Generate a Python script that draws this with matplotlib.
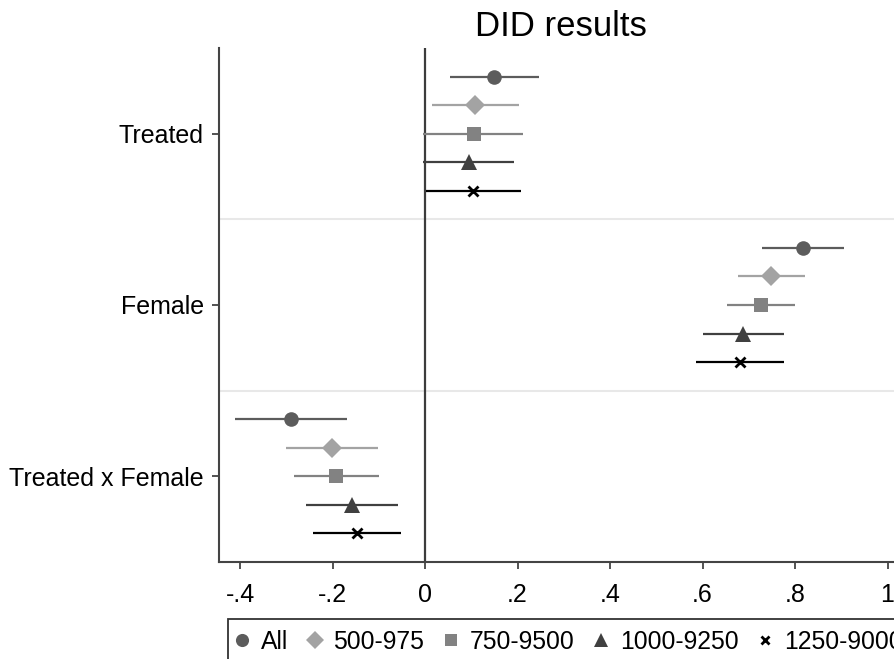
import matplotlib
matplotlib.use("Agg")
import matplotlib.pyplot as plt
from matplotlib.patches import Rectangle
import numpy as np

plt.rcParams['font.family'] = ['Liberation Sans', 'DejaVu Sans']

# coefficient labels (top to bottom) and sample windows
terms = ["Treated", "Female", "Treated x Female"]
samples = ["All", "500-975", "750-9500", "1000-9250", "1250-9000"]

# point estimates, rows = samples, cols = terms
coef_all = [0.149, 0.817, -0.290]
coef_500 = [0.108, 0.749, -0.201]
coef_750 = [0.106, 0.727, -0.192]
coef_1000 = [0.095, 0.688, -0.158]
coef_1250 = [0.104, 0.682, -0.147]

# lower / upper confidence bounds
lo_all = [0.054, 0.729, -0.411]
hi_all = [0.246, 0.906, -0.169]
lo_500 = [0.015, 0.677, -0.300]
hi_500 = [0.203, 0.822, -0.102]
lo_750 = [-0.004, 0.652, -0.283]
hi_750 = [0.212, 0.800, -0.100]
lo_1000 = [-0.005, 0.600, -0.258]
hi_1000 = [0.192, 0.777, -0.059]
lo_1250 = [0.002, 0.587, -0.242]
hi_1250 = [0.207, 0.777, -0.051]

coefs = [coef_all, coef_500, coef_750, coef_1000, coef_1250]
lows = [lo_all, lo_500, lo_750, lo_1000, lo_1250]
highs = [hi_all, hi_500, hi_750, hi_1000, hi_1250]

styles = [
    dict(marker='o', color='#5c5c5c', ms=10.5),
    dict(marker='D', color='#a3a3a3', ms=10),
    dict(marker='s', color='#828282', ms=10),
    dict(marker='^', color='#404040', ms=11),
    dict(marker='x', color='#000000', ms=6.5),
]

W, H = 894, 659
fig = plt.figure(figsize=(W / 100, H / 100), dpi=100)

# axes placed in pixels; right side runs past the figure edge
xmin, xmax = -0.445, 1.05
px_per_unit = 462.5
x0_px = 425 + xmin * px_per_unit
x1_px = 425 + xmax * px_per_unit
top_px, bot_px = 48, 562
ax = fig.add_axes([x0_px / W, (H - bot_px) / H, (x1_px - x0_px) / W, (bot_px - top_px) / H])

band = 6
for j, term in enumerate(terms):
    for i in range(len(samples)):
        y = j * band + 1 + i
        st = styles[i]
        ax.plot([lows[i][j], highs[i][j]], [y, y], color=st['color'], lw=1.6,
                solid_capstyle='butt', zorder=2)
        mew = 2.0 if st['marker'] == 'x' else 0
        ax.plot(coefs[i][j], y, linestyle='none', marker=st['marker'], ms=st['ms'],
                color=st['color'], mew=mew, zorder=3)

for k in range(1, len(terms)):
    ax.axhline(k * band, color='#e8e8e8', lw=1.5, zorder=0)
ax.axvline(0, color='#3c3c3c', lw=1.6, zorder=1)

ax.set_xlim(xmin, xmax)
ax.set_ylim(band * len(terms), 0)
ax.set_yticks([j * band + 3 for j in range(len(terms))])
ax.set_yticklabels(terms)
xt = [-0.4, -0.2, 0, 0.2, 0.4, 0.6, 0.8, 1.0]
ax.set_xticks(xt)
ax.set_xticklabels(["-.4", "-.2", "0", ".2", ".4", ".6", ".8", "1"])

for s in ['top', 'right']:
    ax.spines[s].set_visible(False)
for s in ['left', 'bottom']:
    ax.spines[s].set_color('#444444')
    ax.spines[s].set_linewidth(1.5)
ax.tick_params(axis='both', length=5, width=1.3, color='#444444', labelsize=18)
ax.tick_params(axis='y', pad=6)
ax.tick_params(axis='x', pad=10)

fig.text(561 / W, 1 - 26 / H, "DID results", ha='center', va='center', fontsize=25)

# legend row without its own frame; the box is drawn separately and runs off the edges
handles = []
for st in styles:
    mew = 2.0 if st['marker'] == 'x' else 0
    h, = ax.plot([], [], linestyle='none', marker=st['marker'], color=st['color'],
                 ms=st['ms'] * 0.9, mew=mew)
    handles.append(h)
fig.legend(handles, samples, loc='center left', bbox_to_anchor=(232 / W, 1 - 642 / H),
           ncol=5, fontsize=17.8, frameon=False, handlelength=0.8,
           handletextpad=0.36, columnspacing=0.68, borderpad=0, borderaxespad=0)
fig.patches.append(Rectangle((228 / W, -0.1), 1.0, 0.1 + 1 - 619 / H,
                             transform=fig.transFigure, fill=False,
                             edgecolor='#333333', linewidth=1.3))

fig.savefig("out.png", dpi=100)
